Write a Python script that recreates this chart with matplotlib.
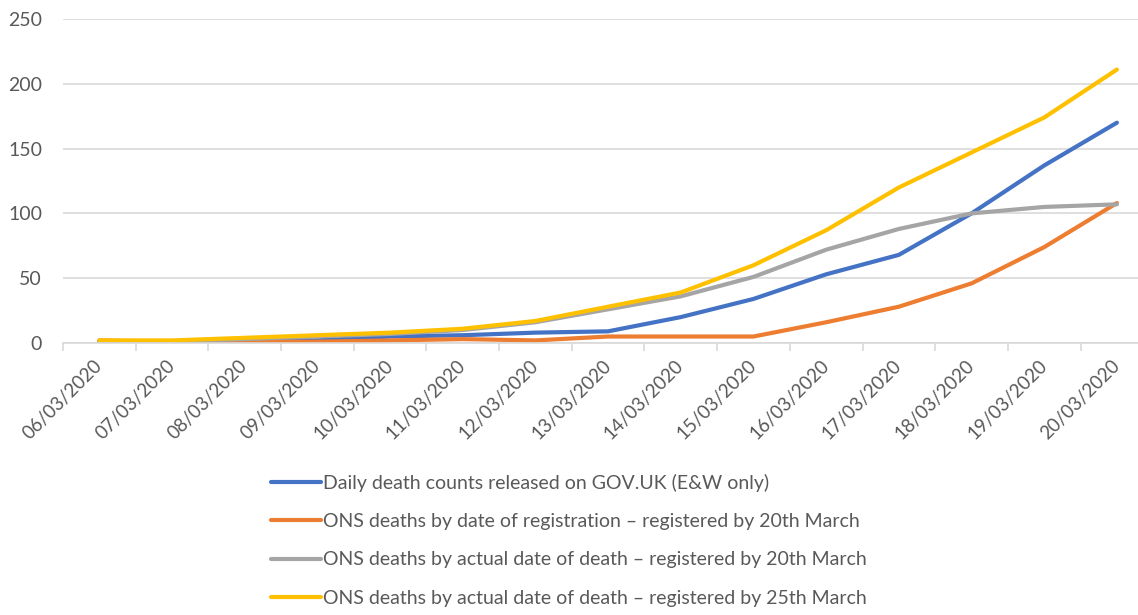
import matplotlib
matplotlib.use("Agg")
import matplotlib.pyplot as plt
import numpy as np

dates = ["06/03/2020", "07/03/2020", "08/03/2020", "09/03/2020", "10/03/2020",
         "11/03/2020", "12/03/2020", "13/03/2020", "14/03/2020", "15/03/2020",
         "16/03/2020", "17/03/2020", "18/03/2020", "19/03/2020", "20/03/2020"]
gov_uk = [1, 1, 2, 2, 5, 6, 8, 9, 20, 34, 53, 68, 100, 137, 170]
ons_registration = [2, 1, 1, 1, 2, 3, 2, 5, 5, 5, 16, 28, 46, 74, 108]
ons_death_20 = [1, 1, 3, 5, 7, 10, 16, 26, 36, 51, 72, 88, 100, 105, 107]
ons_death_25 = [2, 2, 4, 6, 8, 11, 17, 28, 39, 60, 87, 120, 147, 174, 211]
labels = ["Daily death counts released on GOV.UK (E&W only)",
          "ONS deaths by date of registration \u2013 registered by 20th March",
          "ONS deaths by actual date of death \u2013 registered by 20th March",
          "ONS deaths by actual date of death \u2013 registered by 25th March"]
colors = ["#4472C4", "#ED7D31", "#A5A5A5", "#FFC000"]

plt.rcParams['font.family'] = ['Lato', 'DejaVu Sans']

fig = plt.figure(figsize=(11.38, 6.15), dpi=100)
ax = fig.add_axes([63/1138, 272/615, 1 - 63/1138, (596-272)/615])

x = np.arange(len(dates))
series = [gov_uk, ons_registration, ons_death_20, ons_death_25]
lines = []
for s, c, lab in zip(series, colors, labels):
    l, = ax.plot(x, s, color=c, lw=3.0, solid_capstyle='round', label=lab)
    lines.append(l)

ax.set_ylim(0, 250)
ax.set_xlim(-0.5, 14.29)
ax.set_yticks([0, 50, 100, 150, 200, 250])
ax.yaxis.grid(True, color="#D9D9D9", lw=1.2)
ax.set_axisbelow(True)
for sp in ["top", "right", "left"]:
    ax.spines[sp].set_visible(False)
ax.spines["bottom"].set_color("#D9D9D9")
ax.spines["bottom"].set_linewidth(1.2)

ax.set_xticks(x)
ax.set_xticklabels(dates, rotation=45, ha="right", va="center", rotation_mode="anchor",
                   fontsize=13.5, color="#595959")
ax.tick_params(axis="x", which="major", length=0, pad=14)
ax.set_xticks(np.arange(-0.5, 14.5, 1), minor=True)
ax.tick_params(axis="x", which="minor", length=6, color="#D9D9D9", width=1.2)
ax.tick_params(axis="y", length=0, labelsize=14, labelcolor="#595959", pad=15)

fig.legend(handles=lines, loc="upper left", bbox_to_anchor=(253/1138, 1 - 456/615),
           frameon=False, ncol=1, fontsize=14, handlelength=2.6, handletextpad=0.1,
           labelspacing=1.1, labelcolor="#595959")

fig.savefig("out.png", dpi=100)
